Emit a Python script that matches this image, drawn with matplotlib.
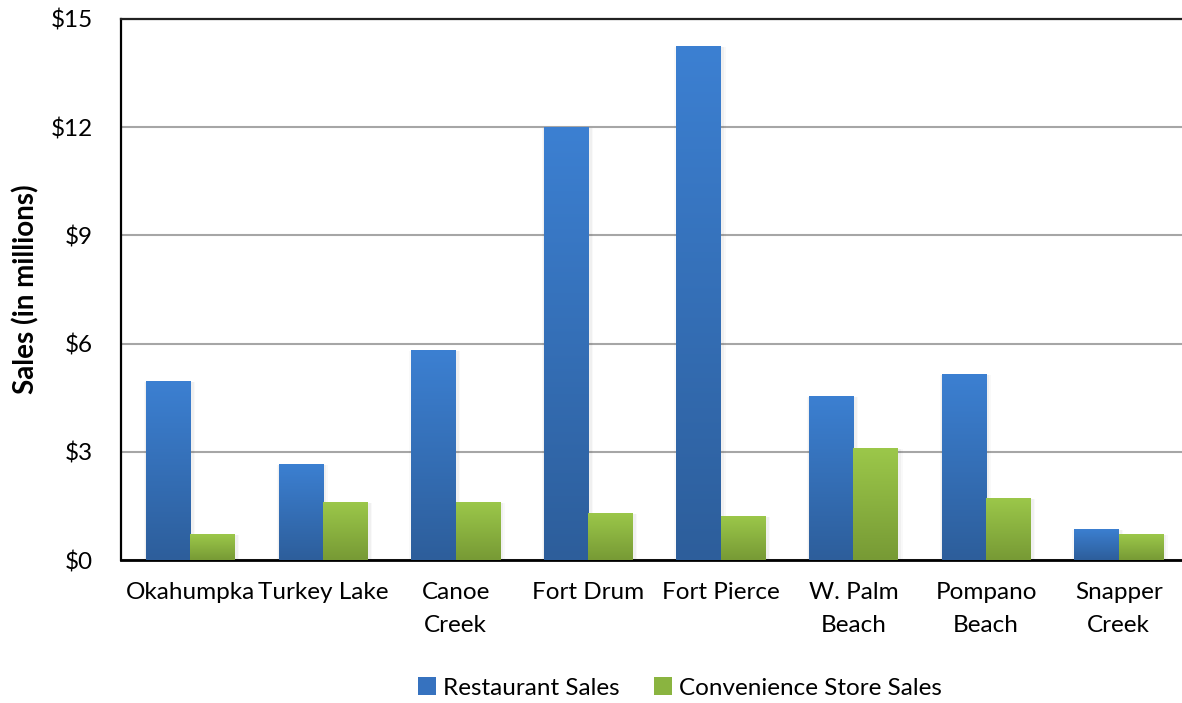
import numpy as np
import matplotlib
matplotlib.use("Agg")
import matplotlib.pyplot as plt
from matplotlib.colors import LinearSegmentedColormap
from matplotlib.patches import Patch
from matplotlib.ticker import FuncFormatter

plt.rcParams['font.family'] = ['Lato', 'DejaVu Sans']

categories = ["Okahumpka", "Turkey Lake", "Canoe\nCreek", "Fort Drum", "Fort Pierce",
              "W. Palm\nBeach", "Pompano\nBeach", "Snapper\nCreek"]
restaurant_sales = [4.97, 2.67, 5.83, 12.0, 14.25, 4.56, 5.17, 0.86]
convenience_sales = [0.72, 1.61, 1.61, 1.31, 1.22, 3.11, 1.72, 0.72]
series_names = ["Restaurant Sales", "Convenience Store Sales"]
yticks = [0, 3, 6, 9, 12, 15]

blue_top, blue_bot = "#3C80D2", "#2D5E9B"
green_top, green_bot = "#9CC84A", "#779A35"

FS = 17.5

fig = plt.figure(figsize=(11.82, 7.03), dpi=100)
ax = fig.add_axes([121/1182, 1-560/703, 1-121/1182, (560-19)/703])

x = np.arange(len(categories))
w = 0.335

def grad_bars(xpos, vals, top, bot, offset):
    bars = ax.bar(xpos + offset, vals, w, facecolor="none", edgecolor="none", zorder=3)
    cmap = LinearSegmentedColormap.from_list("g", [bot, top])
    grad = np.linspace(0, 1, 256).reshape(-1, 1)
    for b in bars:
        bx, by = b.get_x(), b.get_y()
        bw, bh = b.get_width(), b.get_height()
        for k, a in [(0.05, 0.025), (0.03, 0.035)]:
            ax.bar(bx + bw/2 + 0.01, bh + 0.05, bw + k, bottom=-0.08, color="#000000",
                   alpha=a, zorder=2, edgecolor="none")
        im = ax.imshow(grad, cmap=cmap, origin="lower", aspect="auto",
                       extent=[bx, bx + bw, by, by + bh], zorder=3, interpolation="bicubic")
        im.set_clip_path(b)
    return bars

grad_bars(x, restaurant_sales, blue_top, blue_bot, -w/2)
grad_bars(x, convenience_sales, green_top, green_bot, w/2)

ax.set_xlim(-0.523, len(categories) - 0.523)
ax.set_ylim(0, 15)
ax.set_yticks(yticks)
ax.yaxis.set_major_formatter(FuncFormatter(lambda v, p: f"${v:.0f}"))
ax.grid(axis="y", color="#A6A6A6", linewidth=1.5, zorder=0)
ax.set_axisbelow(True)
ax.set_xticks(x)
ax.set_xticklabels(categories, fontsize=FS, linespacing=1.7)
ax.tick_params(axis="x", length=0, pad=16)
ax.tick_params(axis="y", length=0, pad=20, labelsize=FS)
ax.spines["right"].set_visible(False)
ax.spines["top"].set_color("#222222")
ax.spines["top"].set_linewidth(1.6)
ax.spines["left"].set_linewidth(1.6)
ax.spines["bottom"].set_linewidth(2.0)
ax.set_ylabel("Sales (in millions)", fontsize=20, fontweight="bold", labelpad=8)

handles = [Patch(facecolor="#3672BF", edgecolor="none"), Patch(facecolor="#8AB440", edgecolor="none")]
fig.legend(handles, series_names, loc="center", bbox_to_anchor=(680/1182, 1-688/703),
           ncol=2, frameon=False, fontsize=FS, handlelength=0.75, handleheight=0.75,
           handletextpad=0.3, columnspacing=1.4)

fig.savefig("out.png", dpi=100)
